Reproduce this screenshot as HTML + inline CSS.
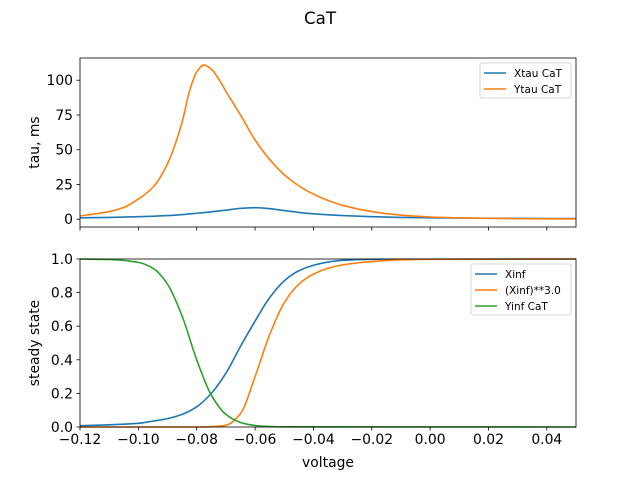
<!DOCTYPE html>
<html><head><meta charset="utf-8"><style>
body{margin:0;background:#fff;}
svg text{font-family:"DejaVu Sans","Liberation Sans",sans-serif;}
</style></head><body>
<svg id="fig" width="640" height="480" xmlns="http://www.w3.org/2000/svg">
<rect width="640" height="480" fill="#fff"/>
<text x="320" y="24" text-anchor="middle" font-size="16.7">CaT</text>
<g id="top"></g>
<g id="bot"></g>
</svg>
<script>
const xTicks = [-0.12,-0.10,-0.08,-0.06,-0.04,-0.02,0.00,0.02,0.04];
const xTickLabels = ["\u22120.12","\u22120.10","\u22120.08","\u22120.06","\u22120.04","\u22120.02","0.00","0.02","0.04"];
const tauTicks = [0,25,50,75,100];
const ssTicks = [0,0.2,0.4,0.6,0.8,1.0];
const ssTickLabels = ["0.0","0.2","0.4","0.6","0.8","1.0"];

const xtauV = [-0.12,-0.11,-0.10,-0.09,-0.08,-0.07,-0.065,-0.06,-0.055,-0.05,-0.045,-0.04,-0.03,-0.02,-0.01,0.0,0.02,0.05];
const xtauY = [1.0,1.3,1.8,2.6,4.3,6.5,7.8,8.3,7.6,6.2,4.9,3.9,2.6,1.8,1.3,1.0,0.7,0.45];
const ytauV = [-0.12,-0.115,-0.11,-0.105,-0.10,-0.095,-0.09,-0.085,-0.0825,-0.08,-0.0775,-0.075,-0.0725,-0.07,-0.065,-0.06,-0.055,-0.05,-0.045,-0.04,-0.035,-0.03,-0.025,-0.02,-0.015,-0.01,-0.005,0.0,0.01,0.02,0.03,0.05];
const ytauY = [2.4,3.8,5.5,8.5,14.5,23,40,70,92,106,111,108,101,92,75,57,43,32,24,18,13.5,10,7.5,5.5,4,3,2.2,1.6,1.0,0.6,0.4,0.2];

const xinfV = [-0.12,-0.11,-0.10,-0.095,-0.09,-0.085,-0.08,-0.075,-0.07,-0.065,-0.06,-0.055,-0.05,-0.045,-0.04,-0.035,-0.03,-0.02,0.05];
const xinfY = [0.008,0.013,0.022,0.035,0.05,0.075,0.12,0.2,0.32,0.48,0.63,0.77,0.87,0.93,0.963,0.982,0.992,0.998,1.0];
const xcubeV = [-0.12,-0.08,-0.075,-0.07,-0.065,-0.06,-0.055,-0.05,-0.045,-0.04,-0.035,-0.03,-0.02,-0.01,0.0,0.05];
const xcubeY = [0,0.0,0.002,0.01,0.08,0.3,0.55,0.74,0.85,0.91,0.945,0.965,0.985,0.995,0.998,1.0];
const yinfV = [-0.12,-0.11,-0.10,-0.095,-0.09,-0.085,-0.08,-0.075,-0.07,-0.065,-0.06,-0.055,-0.05,0.05];
const yinfY = [1.0,0.997,0.98,0.945,0.85,0.66,0.4,0.19,0.075,0.027,0.009,0.003,0.001,0.0];

const NS="http://www.w3.org/2000/svg";
const L=80,R=576;
const xs=v=>L+(v+0.12)/0.17*(R-L);
function el(p,t,a){const e=document.createElementNS(NS,t);for(const k in a)e.setAttribute(k,a[k]);p.appendChild(e);return e;}
function smooth(pts){const n=pts.length,m=[],d=[];
  for(let i=0;i<n-1;i++)d.push((pts[i+1][1]-pts[i][1])/(pts[i+1][0]-pts[i][0]));
  for(let i=0;i<n;i++){if(i==0)m.push(d[0]);else if(i==n-1)m.push(d[n-2]);else{ if(d[i-1]*d[i]<=0)m.push(0);else{const h0=pts[i][0]-pts[i-1][0],h1=pts[i+1][0]-pts[i][0];m.push(3*(h0+h1)/((2*h1+h0)/d[i-1]+(h1+2*h0)/d[i]));}}}
  let s=`M${pts[0][0]},${pts[0][1]}`;
  for(let i=0;i<n-1;i++){const h=(pts[i+1][0]-pts[i][0])/3;
    s+=`C${pts[i][0]+h},${pts[i][1]+m[i]*h} ${pts[i+1][0]-h},${pts[i+1][1]-m[i+1]*h} ${pts[i+1][0]},${pts[i+1][1]}`;}
  return s;}

function panel(g,top,bot,ymin,ymax,yt,ytl,showX,ylabel,series,legend){
  const ys=v=>bot-(v-ymin)/(ymax-ymin)*(bot-top);
  const cp=el(g,'clipPath',{id:'c'+top});el(cp,'rect',{x:L,y:top-1,width:R-L,height:bot-top+2});
  series.forEach(s=>{const p=el(g,'path',{d:smooth(s.v.map((v,i)=>[xs(v),ys(s.y[i])])),fill:'none',stroke:s.c,'stroke-width':1.6,'clip-path':`url(#c${top})`});
    
    });
  el(g,'rect',{x:L,y:top,width:R-L,height:bot-top,fill:'none',stroke:'#000','stroke-width':0.8});
  xTicks.forEach((t,i)=>{const x=xs(t);el(g,'line',{x1:x,x2:x,y1:bot,y2:bot+3.5,stroke:'#000','stroke-width':0.8});
    if(showX){const tx=el(g,'text',{x:x,y:bot+17,'text-anchor':'middle','font-size':13.9});tx.textContent=xTickLabels[i];
      
      }});
  yt.forEach((t,i)=>{const y=ys(t);el(g,'line',{x1:L-3.5,x2:L,y1:y,y2:y,stroke:'#000','stroke-width':0.8});
    const tx=el(g,'text',{x:L-7,y:y+5,'text-anchor':'end','font-size':13.9});tx.textContent=ytl?ytl[i]:String(t);
    
    });
  const yl=el(g,'text',{x:0,y:0,transform:`translate(39,${(top+bot)/2}) rotate(-90)`,'text-anchor':'middle','font-size':13.9});yl.textContent=ylabel;
  
  
  const lw=legend.w,lx=R-5-lw,ly=top+5,lh=3+legend.items.length*16;
  const lg=el(g,'g',{});
  
  
  el(lg,'rect',{x:lx,y:ly,width:lw,height:lh,rx:2,fill:'#fff',stroke:'#ccc','stroke-width':0.8});
  legend.items.forEach((it,i)=>{const y=ly+10+i*16;
    el(lg,'line',{x1:lx+4,x2:lx+26,y1:y,y2:y,stroke:it.c,'stroke-width':1.5});
    const t=el(lg,'text',{x:lx+34,y:y+4,'font-size':10.5});t.textContent=it.t;
    
    });
}
panel(document.getElementById('top'),58,227,-5.6,116,tauTicks,null,false,'tau, ms',
 [{v:xtauV,y:xtauY,c:'#1f77b4',n:'xtau-line'},{v:ytauV,y:ytauY,c:'#ff7f0e',n:'ytau-line'}],
 {w:91,items:[{c:'#1f77b4',t:'Xtau CaT'},{c:'#ff7f0e',t:'Ytau CaT'}]});
panel(document.getElementById('bot'),259,427,0,1,ssTicks,ssTickLabels,true,'steady state',
 [{v:xinfV,y:xinfY,c:'#1f77b4',n:'xinf-line'},{v:xcubeV,y:xcubeY,c:'#ff7f0e',n:'xinf-cubed-line'},{v:yinfV,y:yinfY,c:'#2ca02c',n:'yinf-line'}],
 {w:100,items:[{c:'#1f77b4',t:'Xinf'},{c:'#ff7f0e',t:'(Xinf)**3.0'},{c:'#2ca02c',t:'Yinf CaT'}]});
const xl=el(document.getElementById('bot'),'text',{x:328,y:467,'text-anchor':'middle','font-size':13.9});xl.textContent='voltage';


</script>
</body></html>
